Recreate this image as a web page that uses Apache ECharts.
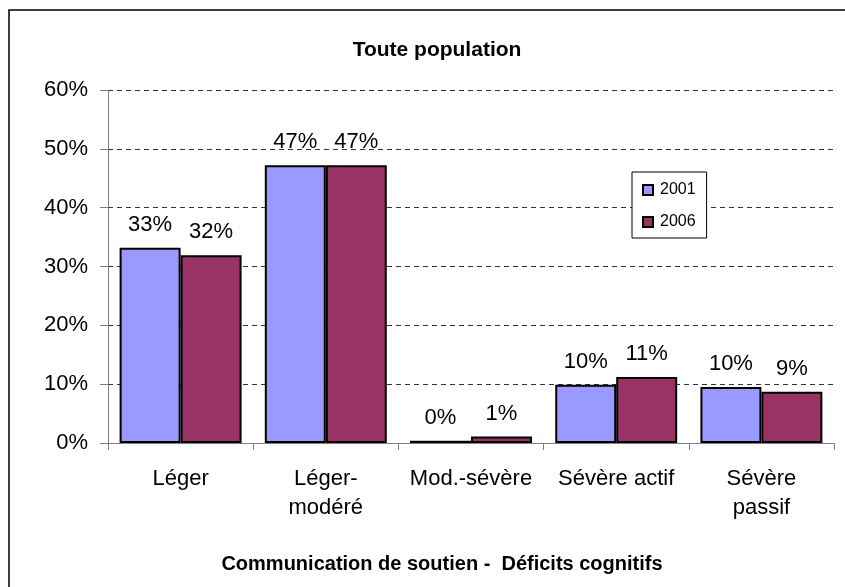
<!DOCTYPE html>
<html>
<head>
<meta charset="utf-8">
<script src="https://cdn.jsdelivr.net/npm/echarts@6/dist/echarts.min.js"></script>
<style>
  html, body { margin: 0; padding: 0; background: #fff; }
  #chart { width: 845px; height: 587px; }
</style>
</head>
<body>
<div id="chart"></div>
<script>
// categories and values (percent)
const categories = ['Léger', 'Léger-\nmodéré', 'Mod.-sévère', 'Sévère actif', 'Sévère\npassif']
const values2001 = [33.2, 47.2, 0.4, 9.9, 9.5]
const values2006 = [31.9, 47.2, 1.1, 11.2, 8.7]
const yTicks = [0, 10, 20, 30, 40, 50, 60]

const FONT = '"Liberation Sans", Arial, sans-serif'

// label above each bar, rounded like the original
const barLabel = {
  show: true,
  position: 'top',
  distance: 12,
  color: '#000',
  fontFamily: FONT,
  fontSize: 22,
  formatter: p => Math.round(p.value) + '%'
}

const chart = echarts.init(document.getElementById('chart'), null, { renderer: 'canvas' })

chart.setOption({
  animation: false,
  backgroundColor: '#fff',
  title: [{
    text: 'Toute population',
    left: 437,
    top: 40,
    padding: 0,
    textAlign: 'center',
    textStyle: { fontFamily: FONT, fontSize: 21, fontWeight: 'bold', color: '#000' }
  }, {
    // axis title, centred on the chart area like the original
    text: 'Communication de soutien -  Déficits cognitifs',
    left: 442,
    top: 554,
    padding: 0,
    textAlign: 'center',
    textStyle: { fontFamily: FONT, fontSize: 20, fontWeight: 'bold', color: '#000' }
  }],
  legend: {
    orient: 'vertical',
    left: 632,
    top: 172,
    padding: [10, 11, 8, 10],
    itemGap: 16,
    itemWidth: 10,
    itemHeight: 10,
    backgroundColor: '#fff',
    borderColor: '#000',
    borderWidth: 1,
    borderRadius: 0,
    icon: 'rect',
    itemStyle: { borderColor: '#000', borderWidth: 2 },
    textStyle: { fontFamily: FONT, fontSize: 16, color: '#000', padding: [0, 0, 0, 2] },
    data: ['2001', '2006']
  },
  graphic: [{
    type: 'rect',
    shape: { x: 9, y: 10, width: 900, height: 700 },
    style: { fill: 'none', stroke: '#000', lineWidth: 1.5 },
    z: -1
  }],
  grid: { left: 108, right: 11, top: 90, bottom: 144 },
  xAxis: {
    type: 'category',
    data: categories,
    axisLine: { lineStyle: { color: '#808080', width: 1 } },
    axisTick: { show: true, alignWithLabel: false, length: 7, lineStyle: { color: '#808080' } },
    axisLabel: { fontFamily: FONT, fontSize: 22, color: '#000', margin: 21, lineHeight: 29, interval: 0 }
  },
  yAxis: {
    type: 'value',
    min: yTicks[0],
    max: yTicks[yTicks.length - 1],
    interval: 10,
    axisLine: { show: true, lineStyle: { color: '#808080', width: 1 } },
    axisTick: { show: true, inside: false, length: 8, lineStyle: { color: '#808080' } },
    axisLabel: { fontFamily: FONT, fontSize: 22, color: '#000', margin: 20, formatter: '{value}%' },
    splitLine: { show: true, lineStyle: { color: '#333', type: [5, 4], width: 1 } }
  },
  series: [
    {
      name: '2001',
      type: 'bar',
      data: values2001,
      barGap: '0%',
      barCategoryGap: '16%',
      itemStyle: { color: '#9999FF', borderColor: '#000', borderWidth: 2 },
      label: barLabel
    },
    {
      name: '2006',
      type: 'bar',
      data: values2006,
      barGap: '0%',
      barCategoryGap: '16%',
      itemStyle: { color: '#993366', borderColor: '#000', borderWidth: 2 },
      label: barLabel
    }
  ]
})
</script>
</body>
</html>
